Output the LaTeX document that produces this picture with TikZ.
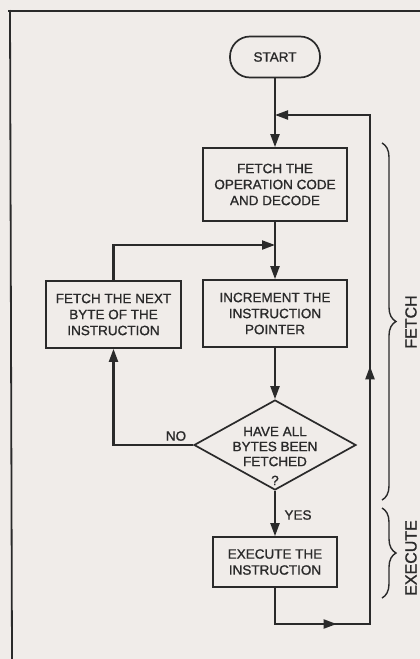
\documentclass[tikz,border=0pt]{standalone}
\usepackage{fontspec}
\setmainfont{Liberation Sans}[FakeBold=1.2]
\usetikzlibrary{arrows.meta,shapes.geometric,decorations.pathreplacing,decorations.markings}
\definecolor{bg}{HTML}{F0ECE9}
\definecolor{ink}{HTML}{2A2A2A}
\tikzset{
  every node/.style={font=\fontsize{13.5}{16}\selectfont, text=ink},
  box/.style={draw=ink, line width=1.7pt, rectangle, align=center, inner sep=0pt},
  conn/.style={draw=ink, line width=2.1pt},
  tip/.style={-{Triangle[length=13pt,width=9pt]}},
  loopmarks/.style={postaction={decorate},
    decoration={markings,
      mark=at position 0.133 with {\arrow{Triangle[length=13pt,width=9pt]}},
      mark=at position 0.529 with {\arrow{Triangle[length=13pt,width=9pt]}}}},
  bracedeco/.style={draw=ink, line width=1.4pt, decorate, decoration={brace, amplitude=14pt}},
  bracelabel/.style={rotate=90, font=\fontsize{16}{16}\selectfont},
  framestyle/.style={draw=ink, line width=1.8pt},
}
\begin{document}
\begin{tikzpicture}[x=1pt,y=-1pt]
\fill[bg] (0,0) rectangle (420,659);
\useasboundingbox (0,0) rectangle (420,659);
% frame
\draw[framestyle] (8,11) -- (420,11);
\draw[framestyle] (10,10) -- (12,659);

% nodes
\node[box, rounded corners=20pt, minimum width=90pt, minimum height=41pt] (start) at (275,57) {START};
\node[box, minimum width=144pt, minimum height=73pt] (fetch) at (275,184.5) {FETCH THE\\OPERATION CODE\\AND DECODE};
\node[box, minimum width=144pt, minimum height=67pt] (incr) at (275,313.5) {INCREMENT THE\\INSTRUCTION\\POINTER};
\node[box, minimum width=135pt, minimum height=67pt] (next) at (113.5,314.5) {FETCH THE NEXT\\BYTE OF THE\\INSTRUCTION};
\node[draw=ink, line width=1.7pt, diamond, minimum width=162pt, minimum height=90pt, inner sep=0pt] (dec) at (275,445) {};
\node[align=center, font=\fontsize{13.5}{15}\selectfont] (dectext) at (275,456) {HAVE ALL\\BYTES BEEN\\FETCHED\\[4pt]?};
\node[box, minimum width=124pt, minimum height=50pt] (exec) at (275,562) {EXECUTE THE\\INSTRUCTION};

% coordinates
\coordinate (j1) at (275,115);
\coordinate (j2) at (275,245);
\coordinate (c2) at (370,624);
\coordinate (c3) at (370,115);

% connectors
\draw[conn,tip] (start) -- (fetch);
\draw[conn,tip] (fetch) -- (incr);
\draw[conn,tip] (next.north) |- (j2);
\draw[conn,tip] (incr) -- (dec.north);
\draw[conn,tip] (dec.west) -| (next.south);
\draw[conn,tip] (dec.south) -- (exec.north);
\draw[conn,tip,loopmarks] (exec.south) |- (c2) -- (c3) -- (j1);

\node (no) at (176,436) {NO};
\node (yes) at (298,515) {YES};

% braces
\coordinate (fb1) at (382,143);
\coordinate (fb2) at (382,500);
\coordinate (eb1) at (382,508);
\coordinate (eb2) at (382,598);
\draw[bracedeco] (fb1) -- (fb2);
\draw[bracedeco] (eb1) -- (eb2);
\node[bracelabel] (fetchlbl) at (411,322) {FETCH};
\node[bracelabel] (execlbl) at (411,558) {EXECUTE};
\end{tikzpicture}
\end{document}
